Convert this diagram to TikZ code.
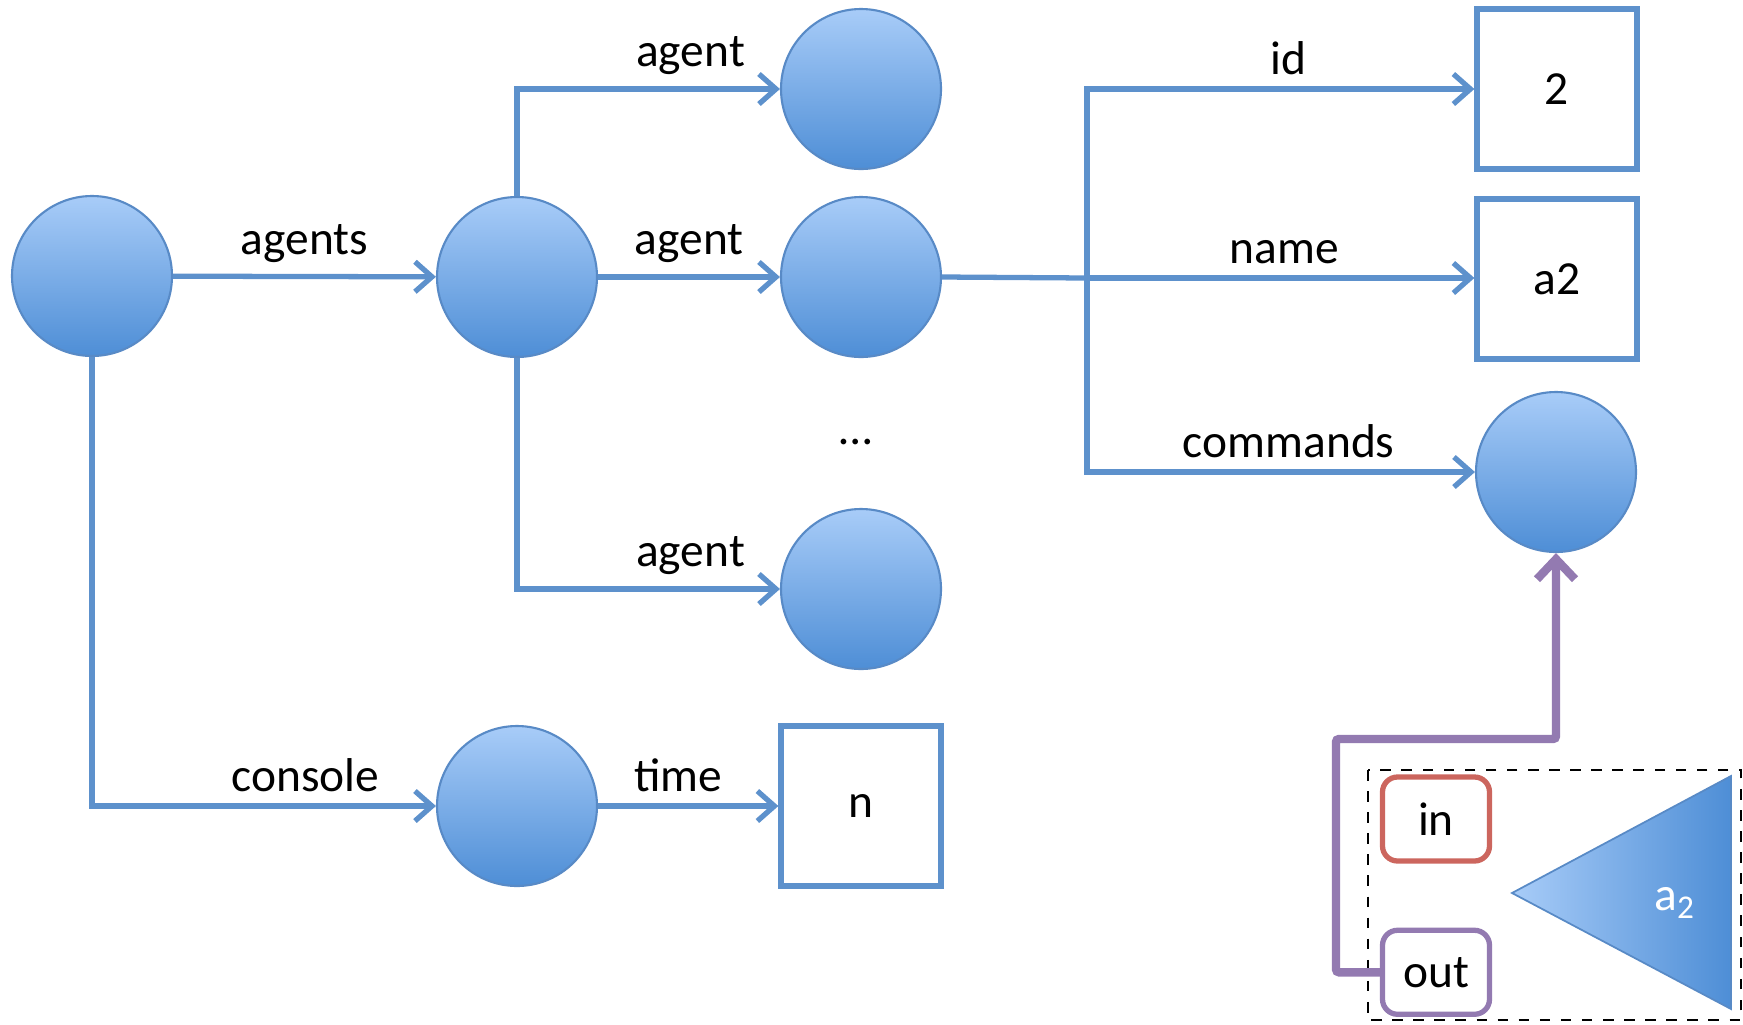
\documentclass[tikz,border=0pt]{standalone}
\usepackage{fontspec}
\setmainfont{Carlito}
\usepackage{tikz}
\usetikzlibrary{positioning,arrows.meta}
\definecolor{LinkBlue}{RGB}{93,145,204}
\definecolor{BallTop}{RGB}{168,204,248}
\definecolor{BallBottom}{RGB}{78,142,214}
\definecolor{BallEdge}{RGB}{88,138,198}
\definecolor{PortRed}{RGB}{204,102,94}
\definecolor{PortPurple}{RGB}{147,122,177}
\tikzset{
    objnode/.style={circle, draw=BallEdge, line width=0.6pt, top color=BallTop, bottom color=BallBottom, minimum size=1.6cm, inner sep=0pt},
    valnode/.style={rectangle, draw=LinkBlue, line width=1.5pt, fill=white, minimum size=1.6cm, inner sep=0pt},
    link/.style={draw=LinkBlue, line width=1.5pt, -{Straight Barb[length=1.7mm,width=3mm]}}
}

\begin{document}
\begin{tikzpicture}[
        y=-1cm,
        every node/.style={font=\fontsize{13.5}{16}\selectfont},
        % Style nhan tren canh
        edgelabel/.style={above=0pt},
        % Style cong in/out
        portnode/.style={
            rectangle,
            rounded corners=0.15cm,
            fill=white,
            line width=1.5pt,
            minimum width=1.07cm,
            minimum height=0.84cm
        },
        % Style duong noi tim
        outlink/.style={
            draw=PortPurple,
            line width=2.4pt,
            rounded corners=0.03cm,
            -{Straight Barb[length=2mm,width=3.8mm]}
        }
    ]
        \useasboundingbox (0,0) rectangle (17.43,10.24);

        % --- 1. CAC NUT ---
        \node[objnode] (root) at (0.92,2.76) {};
        \node[objnode] (list) at (5.17,2.77) {};
        \node[objnode] (ag1) at (8.61,0.89) {};
        \node[objnode] (ag2) at (8.61,2.77) {};
        \node[objnode] (ag3) at (8.61,5.89) {};
        \node (dots) at (8.56,4.42) {\dots};
        \node[objnode] (cons) at (5.17,8.06) {};
        \node[valnode] (nbox) at (8.61,8.06) {n};

        \node[valnode] (idbox) at (15.57,0.89) {2};
        \node[valnode] (namebox) at (15.57,2.79) {a2};
        \node[objnode] (cmd) at (15.56,4.72) {};
        \coordinate (split) at (10.87,2.78);

        % --- 2. CAC CANH ---
        \draw[link] (root) -- node[edgelabel] {agents} (list);
        \draw[link] (list.north) |- node[edgelabel, pos=0.83] {agent} (ag1);
        \draw[link] (list) -- node[edgelabel] {agent} (ag2);
        \draw[link] (list.south) |- node[edgelabel, pos=0.83] {agent} (ag3);
        \draw[link] (root.south) |- node[edgelabel, pos=0.81] {console} (cons);
        \draw[link] (cons) -- node[edgelabel, xshift=-0.1cm] {time} (nbox);

        \draw[draw=LinkBlue, line width=1.5pt] (ag2.east) -- (split);
        \draw[link] (split) |- node[edgelabel, pos=0.76] {id} (idbox);
        \draw[link] (split) -- node[edgelabel, pos=0.51] {name} (namebox.west |- split);
        \draw[link] (split) |- node[edgelabel, pos=0.76] {commands} (cmd);

        % --- 3. TAC TU a2 ---
        \draw[dashed, line width=0.6pt] (13.68,7.70) rectangle (17.41,10.20);
        \node[portnode, draw=PortRed] (inport) at (14.36,8.19) {in};
        \node[portnode, draw=PortPurple, below=0.64cm of inport] (outport) {out};
        \shade[left color=BallTop, right color=BallBottom, draw=BallEdge, line width=0.5pt]
            (15.12,8.93) -- (17.31,7.76) -- (17.31,10.09) -- cycle;
        \node[text=white] (agname) at (16.75,9.03) {a\textsubscript{2}};

        \coordinate (bend) at (13.36,7.39);
        \draw[outlink] (outport.west) -| (bend) -| (cmd.south);

    \end{tikzpicture}
\end{document}
